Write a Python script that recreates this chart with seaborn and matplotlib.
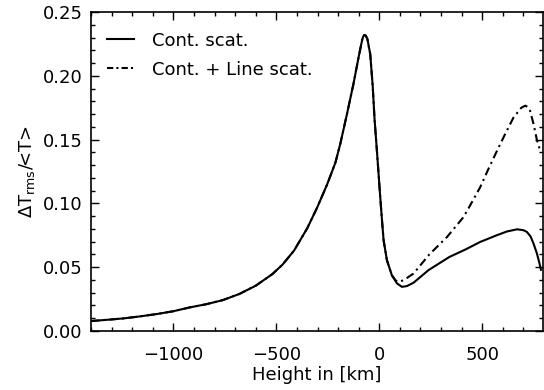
import matplotlib
matplotlib.use("Agg")
import matplotlib.pyplot as plt
import seaborn as sns
import pandas as pd
from matplotlib.ticker import MultipleLocator, FormatStrFormatter

# ---- data ----
height_cont = [-1400, -1320, -1240, -1160, -1080, -1000, -920, -840, -760, -680,
               -600, -520, -470, -414, -350, -301, -253, -213, -189, -157,
               -125, -100, -84, -79, -73, -66, -58, -44, -32, -23, -11, -3,
               5, 13, 21, 37, 61, 86, 110, 134, 166, 239, 340, 420, 490, 570,
               620, 669, 700, 717, 735, 749, 765, 778, 785]
value_cont = [0.0078, 0.0088, 0.0099, 0.0115, 0.0133, 0.0155, 0.0185, 0.0210,
              0.0242, 0.0290, 0.0355, 0.0445, 0.0520, 0.0630, 0.0805, 0.0970,
              0.1150, 0.1320, 0.1470, 0.1700, 0.1940, 0.2150, 0.2275, 0.2305,
              0.2320, 0.2315, 0.2290, 0.2170, 0.1920, 0.1660, 0.1400, 0.1220,
              0.1040, 0.0870, 0.0710, 0.0555, 0.0437, 0.0373, 0.0346, 0.0352,
              0.0378, 0.0477, 0.0580, 0.0640, 0.0698, 0.0750, 0.0780, 0.0797,
              0.0790, 0.0776, 0.0740, 0.0685, 0.0610, 0.0530, 0.0480]

height_line = [-1400, -1320, -1240, -1160, -1080, -1000, -920, -840, -760, -680,
               -600, -520, -470, -414, -350, -301, -253, -213, -189, -157,
               -125, -100, -84, -79, -73, -66, -58, -44, -32, -23, -11, -3,
               5, 13, 21, 37, 61, 80, 97, 120, 166, 243, 329, 409, 441, 490,
               530, 571, 610, 652, 690, 709, 722, 732, 749, 765, 784]
value_line = [0.0078, 0.0088, 0.0099, 0.0115, 0.0133, 0.0155, 0.0185, 0.0210,
              0.0242, 0.0290, 0.0355, 0.0445, 0.0520, 0.0630, 0.0805, 0.0970,
              0.1150, 0.1320, 0.1470, 0.1700, 0.1940, 0.2150, 0.2275, 0.2305,
              0.2320, 0.2315, 0.2290, 0.2170, 0.1920, 0.1660, 0.1400, 0.1220,
              0.1040, 0.0870, 0.0710, 0.0555, 0.0437, 0.0395, 0.0385, 0.0400,
              0.0450, 0.0600, 0.0737, 0.0893, 0.0984, 0.1127, 0.1270, 0.1410,
              0.1540, 0.1674, 0.1750, 0.1766, 0.1755, 0.1727, 0.1623, 0.1500,
              0.1400]

label_cont = "Cont. scat."
label_line = "Cont. + Line scat."
x_label = "Height in [km]"
y_label = r"$\Delta$T$_{\mathrm{rms}}$/<T>"

df_cont = pd.DataFrame({"h": height_cont, "v": value_cont})
df_line = pd.DataFrame({"h": height_line, "v": value_line})

plt.rcParams["font.family"] = ["DejaVu Sans"]
plt.rcParams["mathtext.default"] = "regular"

fig = plt.figure(figsize=(5.44, 3.90), dpi=100)
ax = fig.add_axes([91 / 544, 59 / 390, 452 / 544, 319 / 390])

sns.lineplot(data=df_cont, x="h", y="v", ax=ax, color="black", lw=1.5,
             label=label_cont)
sns.lineplot(data=df_line, x="h", y="v", ax=ax, color="black", lw=1.5,
             label=label_line)
for ln in ax.lines:
    ln.set_solid_joinstyle("round")
    ln.set_dash_joinstyle("round")
ax.lines[1].set_dashes((4, 2, 1, 2))

ax.set_xlim(-1400, 795)
ax.set_ylim(0.0, 0.25)
ax.xaxis.set_major_locator(MultipleLocator(500))
ax.xaxis.set_minor_locator(MultipleLocator(100))
ax.yaxis.set_major_locator(MultipleLocator(0.05))
ax.yaxis.set_minor_locator(MultipleLocator(0.01))
ax.yaxis.set_major_formatter(FormatStrFormatter("%.2f"))

ax.tick_params(which="both", direction="in", top=True, right=True,
               labelsize=13, width=1.0)
ax.tick_params(which="major", length=6)
ax.tick_params(which="minor", length=3)
ax.tick_params(axis="x", which="major", pad=11)
ax.tick_params(axis="y", which="major", pad=6)
for s in ax.spines.values():
    s.set_linewidth(1.2)

ax.set_xlabel(x_label, fontsize=13, labelpad=1)
ax.set_ylabel(y_label, fontsize=13, labelpad=4)

handles, labels = ax.get_legend_handles_labels()
leg = ax.legend(handles, labels, loc="upper left",
                bbox_to_anchor=(-6 / 452, 1.0 + 2 / 319),
                frameon=False, fontsize=13, handlelength=1.5,
                handletextpad=1.0, labelspacing=0.6, borderaxespad=0.7,
                borderpad=0.5)
leg.get_lines()[1].set_dashes((3, 1.5, 1, 1.5))

fig.savefig("out.png", dpi=100)
